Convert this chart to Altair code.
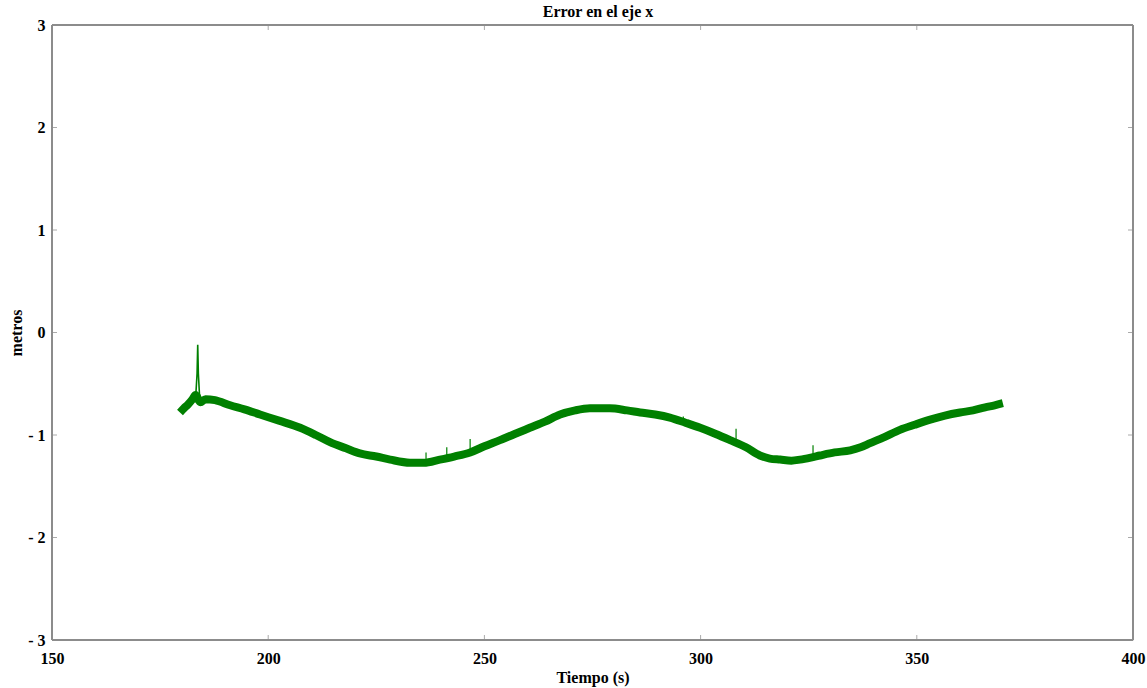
import altair as alt
import pandas as pd

# Smoothed error trace (time in s, error in m)
tiempo = [179.6, 180.5, 181.5, 182.5, 183.2, 184.3, 185.5, 187.7, 191.2, 194.5, 198.1,
          202.5, 207.4, 211.0, 214.3, 218.0, 221.2, 225.0, 228.2, 232.8, 236.0, 239.7,
          243.0, 246.7, 250.0, 253.6, 257.0, 260.5, 264.0, 267.5, 271.0, 274.4, 279.0,
          283.0, 286.0, 289.5, 292.9, 296.5, 299.9, 303.5, 306.8, 310.5, 313.7, 316.0,
          318.4, 321.0, 323.0, 325.5, 327.6, 331.0, 334.6, 337.0, 339.2, 342.5, 346.1,
          349.5, 353.1, 356.5, 360.0, 363.0, 365.8, 368.0, 369.9]
error = [-0.78, -0.74, -0.70, -0.65, -0.61, -0.68, -0.65, -0.66, -0.71, -0.75, -0.80,
         -0.86, -0.93, -1.00, -1.07, -1.13, -1.18, -1.21, -1.24, -1.27, -1.27, -1.24,
         -1.21, -1.17, -1.11, -1.05, -0.99, -0.93, -0.87, -0.80, -0.76, -0.74, -0.74,
         -0.76, -0.78, -0.80, -0.83, -0.88, -0.93, -0.99, -1.05, -1.12, -1.20, -1.23,
         -1.24, -1.25, -1.24, -1.22, -1.20, -1.17, -1.15, -1.12, -1.08, -1.02, -0.95,
         -0.90, -0.85, -0.81, -0.78, -0.76, -0.73, -0.71, -0.69]

# Sharp transient near t = 184 s
pico_t = [182.8, 183.3, 183.55, 183.7, 183.85, 184.1, 184.6]
pico_e = [-0.63, -0.58, -0.40, -0.12, -0.40, -0.60, -0.66]

# Short noise spikes (time, lower, upper)
esp_t = [241.3, 246.7, 308.2, 326.0, 236.5, 296.0]
esp_lo = [-1.22, -1.15, -1.06, -1.20, -1.25, -0.88]
esp_hi = [-1.12, -1.04, -0.94, -1.10, -1.17, -0.82]

x_ticks = [150, 200, 250, 300, 350, 400]
y_ticks = [-3, -2, -1, 0, 1, 2, 3]
titulo = ["Error en el eje x"]

FONT = "Liberation Serif"
GREEN = "#008000"
W, H = 1081, 615

main = pd.DataFrame({"t": tiempo, "e": error})
pico = pd.DataFrame({"t": pico_t, "e": pico_e})
esp = pd.DataFrame({"t": esp_t, "lo": esp_lo, "hi": esp_hi})

xs = alt.Scale(domain=[150, 400], nice=False)
ys = alt.Scale(domain=[-3, 3], nice=False)

x_axis = alt.Axis(values=x_ticks, title="Tiempo (s)", grid=False, domain=False,
                  ticks=False, labelPadding=10, labelFont=FONT, labelFontSize=16,
                  labelFontWeight="bold", labelColor="#000", titleFont=FONT,
                  titleFontSize=16, titleFontWeight="bold", titleColor="#000",
                  titlePadding=3, labelFlush=False)
y_axis = alt.Axis(values=y_ticks, title="metros", grid=False, domain=False,
                  ticks=False, labelPadding=7, labelFont=FONT, labelFontSize=16,
                  labelFontWeight="bold", labelColor="#000", titleFont=FONT,
                  titleFontSize=16, titleFontWeight="bold", titleColor="#000",
                  titlePadding=3, labelFlush=False,
                  labelExpr="datum.value < 0 ? '- ' + abs(datum.value) : datum.value")

band = alt.Chart(main).mark_line(color=GREEN, strokeWidth=8, interpolate="monotone",
                                 strokeJoin="round", strokeCap="butt").encode(
    x=alt.X("t:Q", scale=xs, axis=x_axis),
    y=alt.Y("e:Q", scale=ys, axis=y_axis),
)

spike = alt.Chart(pico).mark_line(color=GREEN, strokeWidth=1.6).encode(
    x=alt.X("t:Q", scale=xs), y=alt.Y("e:Q", scale=ys))

noise = alt.Chart(esp).mark_rule(color=GREEN, strokeWidth=1.2).encode(
    x=alt.X("t:Q", scale=xs), y=alt.Y("lo:Q", scale=ys), y2="hi:Q")

# Inward tick marks on all four sides
xt = pd.DataFrame({"v": x_ticks})
yt = pd.DataFrame({"v": y_ticks})
tick_color = "#aaaaaa"
xb = alt.Chart(xt).mark_rule(color=tick_color).encode(
    x=alt.X("v:Q", scale=xs), y=alt.value(H), y2=alt.value(H - 5))
xtop = alt.Chart(xt).mark_rule(color=tick_color).encode(
    x=alt.X("v:Q", scale=xs), y=alt.value(0), y2=alt.value(5))
yl = alt.Chart(yt).mark_rule(color=tick_color).encode(
    y=alt.Y("v:Q", scale=ys), x=alt.value(0), x2=alt.value(5))
yr = alt.Chart(yt).mark_rule(color=tick_color).encode(
    y=alt.Y("v:Q", scale=ys), x=alt.value(W), x2=alt.value(W - 5))

# Plot frame
frame_col = "#8c8c8c"
fr_top = alt.Chart(xt).mark_rule(color=frame_col, strokeWidth=2).encode(
    x=alt.value(0), x2=alt.value(W), y=alt.value(0))
fr_bot = alt.Chart(xt).mark_rule(color=frame_col, strokeWidth=2).encode(
    x=alt.value(0), x2=alt.value(W), y=alt.value(H))
fr_left = alt.Chart(xt).mark_rule(color=frame_col, strokeWidth=2).encode(
    y=alt.value(0), y2=alt.value(H), x=alt.value(0))
fr_right = alt.Chart(xt).mark_rule(color=frame_col, strokeWidth=2).encode(
    y=alt.value(0), y2=alt.value(H), x=alt.value(W))

head = alt.Chart(pd.DataFrame({"titulo": titulo})).mark_text(
    font=FONT, fontSize=16, fontWeight="bold", color="#000", baseline="bottom",
    align="center").encode(x=alt.value(546), y=alt.value(-5), text="titulo:N")

chart = alt.layer(xb, xtop, yl, yr, fr_top, fr_bot, fr_left, fr_right,
                  band, noise, spike, head).properties(
    width=W, height=H,
    autosize=alt.AutoSizeParams(type="none"),
    padding={"left": 52, "top": 25, "right": 14, "bottom": 48},
).configure_view(stroke=None).configure(background="white")

chart.save("out.html", embed_options={"renderer": "svg", "actions": False})
